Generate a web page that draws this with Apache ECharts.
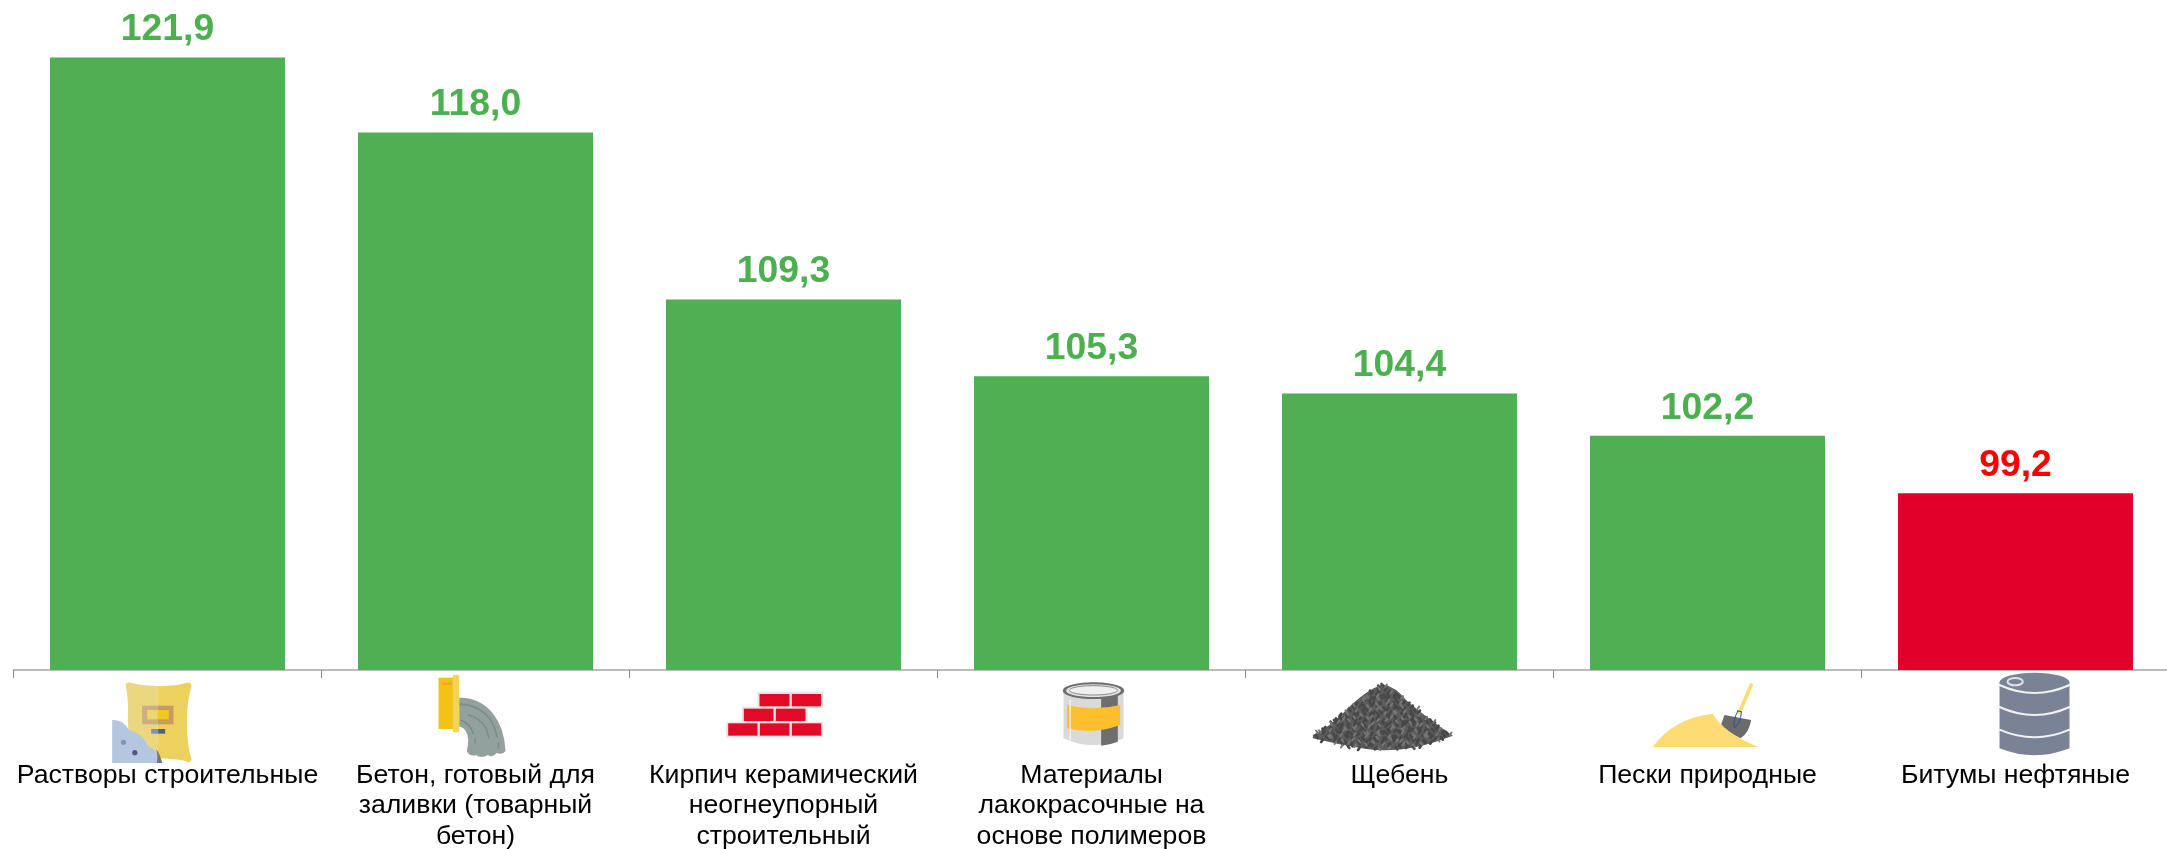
<!DOCTYPE html>
<html><head><meta charset="utf-8">
<style>html,body{margin:0;padding:0;background:#fff;overflow:hidden}#c{width:2167px;height:849px}</style>
<script src="https://cdn.jsdelivr.net/npm/echarts@6/dist/echarts.min.js"></script>
</head><body><div id="c"></div>
<script>
const categories = [
  "Растворы строительные",
  "Бетон, готовый для\nзаливки (товарный\nбетон)",
  "Кирпич керамический\nнеогнеупорный\nстроительный",
  "Материалы\nлакокрасочные на\nоснове полимеров",
  "Щебень",
  "Пески природные",
  "Битумы нефтяные"
];
const values = [121.9, 118.0, 109.3, 105.3, 104.4, 102.2, 99.2];
const barColors = ["#50AF52","#50AF52","#50AF52","#50AF52","#50AF52","#50AF52","#E2002B"];
const labelColors = ["#4CAF50","#4CAF50","#4CAF50","#4CAF50","#4CAF50","#4CAF50","#FF0000"];
const iconNames = ["bag","concrete","bricks","can","gravel","sand","barrel"];

const P = (d, fill, extra) => ({type:'path', shape:{pathData:d}, style:Object.assign({fill:fill||'none'}, extra||{})});
const S = (d, color, w) => P(d, null, {stroke:color, lineWidth:w, lineCap:'round', lineJoin:'round'});
const R = (x,y,w,h,fill,r) => ({type:'rect', shape:{x,y,width:w,height:h,r:r||0}, style:{fill}});
const E = (cx,cy,rx,ry,fill,stroke,w) => ({type:'ellipse', shape:{cx,cy,rx,ry}, style:{fill:fill||'none', stroke:stroke||null, lineWidth:w||0}});

function gravelChildren(){
  const kids = [P("M40 180Q100 150 140 105Q200 45 250 28Q290 36 320 76Q390 135 460 182Q400 205 350 216Q270 232 200 222Q120 210 40 190Z","#5C5C5C")];
  const dark=[], light=[];
  let n=0;
  for(let y=34;y<224;y+=12){
    const half = y<180 ? 6+(y-28)*1.32 : 206-(y-180)*2.6;
    for(let x=250-half;x<=250+half;x+=12){
      n++;
      const dx = (n%3)*3-3, dy=(n%5)*2-4;
      const seg = `M${(x+dx).toFixed(1)} ${y+dy}l${n%2?5:-5} ${n%4<2?7:-7}`;
      (n%3===0?light:dark).push(seg);
    }
  }
  kids.push(S(dark.join(''),"#474747",8));
  kids.push(S(light.join(''),"#777777",6));
  return kids;
}

const icons = {
  bag: {dx:-68, dy:5, kids:[
    P("M78 30Q82 18 95 24Q135 34 175 34L175 250Q130 250 95 258Q82 266 78 250Q90 200 85 130Q88 70 78 30Z","#EBD780"),
    P("M175 34Q225 34 258 24Q275 18 276 32Q262 80 262 140Q262 210 276 252Q272 268 258 258Q220 250 175 250Z","#EDD15F"),
    R(128,92,47,56,"#CBAE82"), R(175,92,47,56,"#C69C5E"),
    R(143,105,32,28,"#EFD56E"), R(175,105,33,28,"#F0C91F"),
    R(155,162,21,14,"#8494A8"), R(176,162,21,14,"#56616F"),
    P("M38 134Q72 134 88 165Q128 172 146 214Q172 222 188 264L38 264Z","#B5C7E0"),
    P("M170 222Q182 238 188 264L172 264Q176 240 170 222Z","#6E7684"),
    E(72,202,8,8,"#8793A8"), E(106,233,8,8,"#4F5A6E")
  ]},
  concrete: {dx:-51, dy:5, kids:[
    P("M104 68Q165 66 205 115Q240 160 243 228Q236 240 216 234Q206 250 190 240Q170 252 155 240Q135 246 127 228Q136 190 125 170Q116 155 104 155Z","#93A19E"),
    S("M106 88Q160 88 195 130Q212 155 218 186","#7E8C89",5),
    S("M222 204L222 220","#7E8C89",5),
    S("M132 120Q165 128 185 160L193 188","#7E8C89",5),
    S("M110 136Q135 145 147 176","#7E8C89",5),
    S("M152 190L152 204","#7E8C89",5),
    R(42,8,46,154,"#F2C219"),
    R(85,0,19,172,"#F3D25D",4),
    R(53,22,30,8,"#F6A623")
  ]},
  bricks: {dx:-64, dy:5, kids:[
    R(114,50,197,50,"#E6E6E6"), R(67,95,198,48,"#E6E6E6"), R(20,140,291,48,"#E6E6E6"),
    R(120,57,90,37,"#E30A27"), R(217,57,88,37,"#E30A27"),
    R(73,101,89,37,"#E30A27"), R(169,101,89,37,"#E30A27"),
    R(26,145,88,37,"#E30A27"), R(121,145,89,37,"#E30A27"), R(217,145,88,37,"#E30A27")
  ]},
  can: {dx:-42, dy:5, kids:[
    P("M42 48L42 190Q130 232 222 190L222 48Z","#DADADA"),
    P("M155 60L205 60L205 200Q180 210 155 212Z","#6E6E6E"),
    P("M53 90Q130 110 212 90L212 150Q130 180 53 160Z","#FDBF2D"),
    S("M62 76L62 198","#F4F4F4",4),
    E(132,47,92,25,"#6E6E6E"),
    E(132,47,82,19,"#E2E2E2"),
    E(132,46,72,14,"#EFEFEF","#8A8A8A",3)
  ]},
  gravel: {dx:-100, dy:5, kids:gravelChildren()},
  sand: {dx:-68, dy:5, kids:[
    S("M335 30L300 112","#FFDB74",11),
    P("M255 120L335 135Q328 175 303 190Q262 172 245 148Z","#6B6B6B"),
    P("M40 216Q100 130 220 116Q250 172 357 216Z","#FFDB74"),
    S("M295 108L306 110Q302 148 285 158Q278 140 295 108Z","#2F4EA0",3)
  ]},
  barrel: {dx:-36, dy:-5, kids:[
    P("M60 52A105 29 0 0 1 270 52L270 250Q165 292 60 250Z","#7A8396"),
    S("M60 60Q165 108 270 60","#F1F2F4",6),
    S("M60 126Q165 174 270 126","#F1F2F4",6),
    S("M60 194Q165 240 270 194","#F1F2F4",6),
    E(107,50,23,11,"#7A8396","#DDE0E6",6)
  ]}
};

const chart = echarts.init(document.getElementById('c'), null, {renderer:'canvas'});
chart.setOption({
  animation:false,
  backgroundColor:'#fff',
  grid:{left:13.5, right:-2.5, top:55.6, bottom:179, containLabel:false, outerBoundsMode:'none'},
  xAxis:{
    type:'category', data:categories, boundaryGap:true,
    axisLine:{show:true, lineStyle:{color:'#A6A6A6', width:1.5}},
    axisTick:{show:true, length:8, alignWithLabel:false, lineStyle:{color:'#8C8C8C', width:1}},
    axisLabel:{interval:0, margin:90, color:'#000', fontFamily:'Liberation Sans', fontSize:26.67, lineHeight:30.7, align:'center', verticalAlign:'top'}
  },
  yAxis:{type:'value', min:90, max:122, show:false, splitLine:{show:false}},
  series:[
    {type:'bar', barWidth:235,
     data:values.map((v,i)=>({value:v, itemStyle:{color:barColors[i]},
        label:{color:labelColors[i]}})),
     label:{show:true, position:'top', distance:9, fontFamily:'Liberation Sans', fontWeight:'bold', fontSize:37.33,
        formatter:p=>p.value.toFixed(1).replace('.',',')}},
    {type:'custom', clip:false, silent:true, z:5,
     data:categories.map((c,i)=>[i,90]),
     encode:{x:0,y:1},
     renderItem:(params,api)=>{
       const p = api.coord([api.value(0), api.value(1)]);
       const ic = icons[iconNames[params.dataIndex]];
       return {type:'group', x:p[0]+ic.dx, y:p[1]+ic.dy, scaleX:1/3, scaleY:1/3, children:ic.kids};
     }}
  ]
});
</script></body></html>
